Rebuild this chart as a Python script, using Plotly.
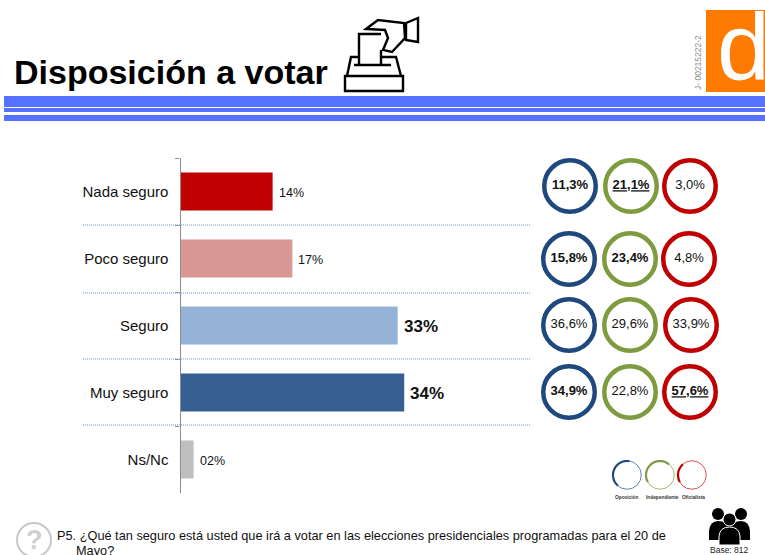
import numpy as np
import plotly.graph_objects as go

# ---- data
categories = ["Nada seguro", "Poco seguro", "Seguro", "Muy seguro", "Ns/Nc"]
values = [14, 17, 33, 34, 2]
value_labels = ["14%", "17%", "33%", "34%", "02%"]
oposicion = ["11,3%", "15,8%", "36,6%", "34,9%"]
independiente = ["21,1%", "23,4%", "29,6%", "22,8%"]
oficialista = ["3,0%", "4,8%", "33,9%", "57,6%"]
oposicion_bold = [True, True, False, True]
independiente_bold = [True, True, False, False]
oficialista_bold = [False, False, False, True]
independiente_ul = [True, False, False, False]
oficialista_ul = [False, False, False, True]
legend_names = ["Oposición", "Independiente", "Oficialista"]

# ---- styles and layout
W, H = 765, 555
FONT = "Liberation Sans"
BAR_COLORS = ["#C00000", "#D99694", "#95B3D7", "#376092", "#BFBFBF"]
BLUE, GREEN, RED = "#1F497D", "#7F9B3F", "#C00000"
STRIPE = "#5472FF"
ROW_Y = [186, 259, 325, 392]
COL_X = [[570, 631, 690], [569, 630, 689], [569, 630, 691], [569, 630, 690]]


def styled(s, bold=False, ul=False):
    if ul:
        s = f"<u>{s}</u>"
    if bold:
        s = f"<b>{s}</b>"
    return s


fig = go.Figure()
fig.add_trace(go.Bar(
    x=values, y=categories, orientation="h", width=0.57,
    marker=dict(color=BAR_COLORS, line_width=0),
    hoverinfo="skip", showlegend=False, xaxis="x", yaxis="y",
))

# ring groups
groups = [
    (BLUE, oposicion, oposicion_bold, [False] * 4),
    (GREEN, independiente, independiente_bold, independiente_ul),
    (RED, oficialista, oficialista_bold, oficialista_ul),
]
for c, (col, labels, bolds, uls) in enumerate(groups):
    fig.add_trace(go.Scatter(
        x=[COL_X[r][c] for r in range(4)], y=ROW_Y,
        mode="markers+text",
        marker=dict(size=51.5, color="rgba(0,0,0,0)", line=dict(color=col, width=4.5)),
        text=[styled(t, b, u) for t, b, u in zip(labels, bolds, uls)],
        textposition="middle center",
        textfont=dict(family=FONT, size=13, color="#111111"),
        xaxis="x2", yaxis="y2", showlegend=False, hoverinfo="skip", cliponaxis=False,
    ))

# legend rings
LEG_X = [627, 660, 692]
LEG_Y = 475
LEG_LIGHT = ["#5F85B5", "#A3BB6E", "#E05050"]
for lx, lc in zip(LEG_X, LEG_LIGHT):
    fig.add_trace(go.Scatter(
        x=[lx], y=[LEG_Y], mode="markers",
        marker=dict(size=28.5, color="rgba(0,0,0,0)", line=dict(color=lc, width=1)),
        xaxis="x2", yaxis="y2", showlegend=False, hoverinfo="skip",
    ))


def arc(cx, cy, r, a0, a1, n=24):
    t = np.radians(np.linspace(a0, a1, n))
    pts = [(cx + r * np.cos(a), cy + r * np.sin(a)) for a in t]
    return "M" + " L".join(f"{x:.1f},{y:.1f}" for x, y in pts)


shapes = []


def S(path=None, fill=None, lw=0, lc=None, **kw):
    d = dict(xref="x2", yref="y2", line=dict(width=lw, color=lc or "rgba(0,0,0,0)"), layer="above")
    if path:
        d.update(type="path", path=path)
    if fill:
        d["fillcolor"] = fill
    d.update(kw)
    shapes.append(d)


def rect(x0, y0, x1, y1, col):
    S(type="rect", x0=x0, y0=y0, x1=x1, y1=y1, fill=col)


# header stripes and logo
rect(4, 96, W, 107, STRIPE)
rect(4, 108, W, 112, STRIPE)
rect(4, 115, W, 121, STRIPE)
rect(706, 10, W, 92, "#FF7A00")

# leader lines
for yy in [225, 293, 359, 425]:
    S(type="line", x0=83, x1=530, y0=yy, y1=yy, lw=1, lc="#6E8FC4")
    shapes[-1]["line"]["dash"] = "1px,1px"

# legend arcs
S(arc(LEG_X[0], LEG_Y, 14, 130, 280), lw=2.2, lc=BLUE)
S(arc(LEG_X[1], LEG_Y, 14, 150, 310), lw=2.2, lc=GREEN)
S(arc(LEG_X[2], LEG_Y, 14, 150, 230), lw=2.2, lc=RED)

# ballot box
INK = "#000000"
S("M347,76 L351,57 L360,57 M381,57 L396,57 L401,76", lw=2.4, lc=INK)
S("M345,76 L403,76 L403,91 L345,91 Z", lw=2.4, lc=INK)
S("M354,65 L391,65", lw=2.4, lc=INK)
S("M359,64 L359,34 L381,34 M381,50 L381,64", lw=2.4, lc=INK)
S("M366,29 L378,20 L404,23 L405,38 L392,52 L383,50 L388,38 L385,30 Z", lw=2.4, lc=INK, fill="#FFFFFF")
S("M406,23 L418,18 L418,42 L406,40 Z", lw=2.4, lc=INK, fill="#FFFFFF")

# people icon
for cx, cy, r in [(718, 514, 6), (741, 514, 6)]:
    S(type="circle", x0=cx - r, x1=cx + r, y0=cy - r, y1=cy + r, fill=INK)
S("M709,540 L709,531 Q710,521 718,521 Q727,521 731,527 L720,540 Z", fill=INK)
S("M750,540 L750,531 Q749,521 741,521 Q733,521 729,527 L740,540 Z", fill=INK)
S(type="circle", x0=723, x1=736, y0=513, y1=526, fill=INK, lw=1, lc="#FFFFFF")
S("M719,545 L719,536 Q720,527 729.5,527 Q739,527 740,536 L740,545 Z", fill=INK, lw=1, lc="#FFFFFF")

# question icon
S(type="circle", x0=17, x1=51, y0=523, y1=557, lw=2, lc="#C8C8C8")

ann = []


def T(x, y, text, size, color="#000000", anchor="left", **kw):
    ann.append(dict(xref="x2", yref="y2", x=x, y=y, text=text, showarrow=False, xanchor=anchor,
                    yanchor="middle", font=dict(family=FONT, size=size, color=color), **kw))


T(12, 72, "<b>Disposición a votar</b>", 34)
T(698, 63, "J- 00215222-2", 8.5, "#8C8C8C", "center", textangle=-90)
T(743, 47, "d", 95, "#FFFFFF", "center")
T(55, 535, "P5. ¿Qué tan seguro está usted que irá a votar en las elecciones presidenciales programadas para el 20 de", 12.75, "#111111")
T(74, 550, "Mayo?", 12.75, "#111111")
T(34, 540, "<b>?</b>", 27, "#CFCFCF", "center")
T(729, 550, "Base: 812", 8.5, "#222222", "center")
for lx, name in zip([627, 662, 693], legend_names):
    T(lx, 497, f"<b>{name}</b>", 4.8, "#333333", "center")

# value labels placed by the bar axes
for cat, v, lab in zip(categories, values, value_labels):
    big = v > 30
    ann.append(dict(xref="x", yref="y", x=v, y=cat, text=f"<b>{lab}</b>" if big else lab, showarrow=False,
                    xanchor="left", yanchor="middle", xshift=4, yshift=-1,
                    font=dict(family=FONT, size=17 if big else 12.5, color="#111111")))

Y0, Y1 = 158, 493
X0, PX_PER_UNIT, XMAX = 180.5, 6.58, 50
fig.update_layout(
    width=W, height=H, margin=dict(l=0, r=0, t=0, b=0),
    plot_bgcolor="rgba(0,0,0,0)", paper_bgcolor="white",
    bargap=0.43, showlegend=False,
    font=dict(family=FONT, color="#111111"),
    xaxis=dict(domain=[X0 / W, (X0 + PX_PER_UNIT * XMAX) / W], range=[0, XMAX],
               visible=False, fixedrange=True),
    yaxis=dict(domain=[1 - Y1 / H, 1 - Y0 / H], autorange="reversed", type="category",
               categoryorder="array", categoryarray=categories,
               showline=True, linecolor="#8C8C8C", linewidth=1.2, ticks="outside", ticklen=4,
               tickcolor="#8C8C8C", tickson="boundaries", showgrid=False,
               tickfont=dict(family=FONT, size=15, color="#111111"), ticklabelstandoff=8,
               anchor="x", fixedrange=True),
    xaxis2=dict(domain=[0, 1], range=[0, W], visible=False, anchor="y2", fixedrange=True),
    yaxis2=dict(domain=[0, 1], range=[H, 0], visible=False, anchor="x2", fixedrange=True),
    shapes=shapes, annotations=ann,
)
fig.write_html("out.html", post_script="document.body.style.margin='0';", config=dict(displayModeBar=False))
